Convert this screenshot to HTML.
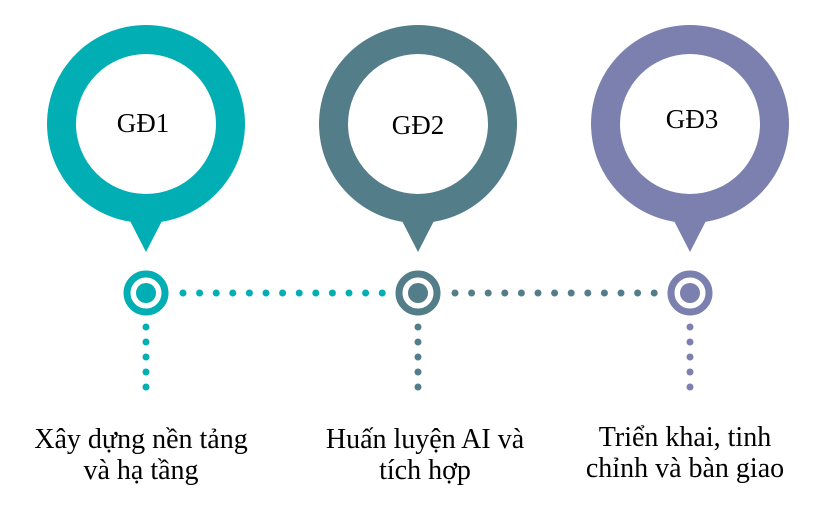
<!DOCTYPE html>
<html><head><meta charset="utf-8"><style>
body{margin:0;background:#fff;width:822px;height:516px;overflow:hidden}
svg{display:block}
text{font-family:"Liberation Serif","Noto Serif CJK SC",serif;fill:#000}
</style></head><body>
<svg width="822" height="516" viewBox="0 0 822 516">
<g fill="#00AEB3">
<circle cx="146" cy="124" r="99"/>
<polygon points="127,215 165,215 146,252"/>
</g>
<circle cx="146" cy="124" r="70" fill="#fff"/>
<g fill="#527D89">
<circle cx="418" cy="124" r="99"/>
<polygon points="399,215 437,215 418,252"/>
</g>
<circle cx="418" cy="124" r="70" fill="#fff"/>
<g fill="#7B80AE">
<circle cx="690" cy="124" r="99"/>
<polygon points="671,215 709,215 690,252"/>
</g>
<circle cx="690" cy="124" r="70" fill="#fff"/>
<text x="143" y="132" font-size="27" text-anchor="middle">GĐ1</text>
<text x="418" y="134" font-size="27" text-anchor="middle">GĐ2</text>
<text x="692" y="128" font-size="27" text-anchor="middle">GĐ3</text>
<circle cx="146" cy="293" r="19" fill="none" stroke="#00AEB3" stroke-width="7"/>
<circle cx="146" cy="293" r="10" fill="#00AEB3"/>
<circle cx="418" cy="293" r="19" fill="none" stroke="#527D89" stroke-width="7"/>
<circle cx="418" cy="293" r="10" fill="#527D89"/>
<circle cx="690" cy="293" r="19" fill="none" stroke="#7B80AE" stroke-width="7"/>
<circle cx="690" cy="293" r="10" fill="#7B80AE"/>
<line x1="183" y1="293" x2="383" y2="293" stroke="#00AEB3" stroke-width="7" stroke-linecap="round" stroke-dasharray="0 16.6"/>
<line x1="455" y1="293" x2="655" y2="293" stroke="#527D89" stroke-width="7" stroke-linecap="round" stroke-dasharray="0 16.6"/>
<line x1="146" y1="327" x2="146" y2="388" stroke="#00AEB3" stroke-width="7" stroke-linecap="round" stroke-dasharray="0 15"/>
<line x1="418" y1="327" x2="418" y2="388" stroke="#527D89" stroke-width="7" stroke-linecap="round" stroke-dasharray="0 15"/>
<line x1="690" y1="327" x2="690" y2="388" stroke="#7B80AE" stroke-width="7" stroke-linecap="round" stroke-dasharray="0 15"/>
<g font-size="28" text-anchor="middle">
<text x="141" y="448">Xây dựng nền tảng</text>
<text x="141" y="479">và hạ tầng</text>
<text x="425" y="448">Huấn luyện AI và</text>
<text x="425" y="479">tích hợp</text>
<text x="685" y="446">Triển khai, tinh</text>
<text x="685" y="477">chỉnh và bàn giao</text>
</g>
</svg>
</body></html>
